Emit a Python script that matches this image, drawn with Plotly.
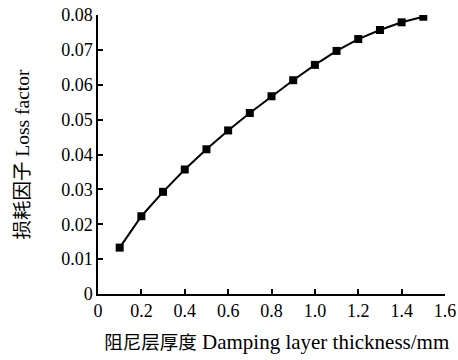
import plotly.graph_objects as go

thickness = [0.1, 0.2, 0.3, 0.4, 0.5, 0.6, 0.7, 0.8, 0.9, 1.0, 1.1, 1.2, 1.3, 1.4, 1.5]
loss_factor = [0.0133, 0.0223, 0.0293, 0.0357, 0.0415, 0.0469, 0.0519, 0.0567, 0.0613, 0.0657, 0.0697, 0.0731, 0.0757, 0.0779, 0.0795]
x_ticks = [0, 0.2, 0.4, 0.6, 0.8, 1.0, 1.2, 1.4, 1.6]
x_tick_text = ["0", "0.2", "0.4", "0.6", "0.8", "1.0", "1.2", "1.4", "1.6"]
y_ticks = [0, 0.01, 0.02, 0.03, 0.04, 0.05, 0.06, 0.07, 0.08]
y_tick_text = ["0", "0.01", "0.02", "0.03", "0.04", "0.05", "0.06", "0.07", "0.08"]
x_title_cn = "阻尼层厚度"
x_title_en = "Damping layer thickness/mm"
y_title_cn = "损耗因子"
y_title_en = "Loss factor"

font_family = "Liberation Serif, Times New Roman, Noto Sans CJK SC, serif"

fig = go.Figure()
fig.add_trace(go.Scatter(
    x=thickness, y=loss_factor, mode="lines+markers",
    line=dict(color="black", width=2),
    marker=dict(symbol="square", size=8, color="black"),
    showlegend=False,
))

fig.update_layout(
    width=458, height=360,
    margin=dict(l=98, r=13, t=15, b=66),
    paper_bgcolor="white", plot_bgcolor="white",
    font=dict(family=font_family, size=18, color="black"),
    xaxis=dict(
        range=[0, 1.6], tickvals=x_ticks, ticktext=x_tick_text,
        showline=True, linecolor="black", linewidth=1.5,
        ticks="inside", ticklen=5, tickwidth=1.5, tickcolor="black",
        showgrid=False, zeroline=False, automargin=False,
        title=dict(text=f'&nbsp;&nbsp;<span style="font-size:18.5px">{x_title_cn}</span><span style="font-size:21px"> {x_title_en}</span>',
                   font=dict(size=21), standoff=14),
    ),
    yaxis=dict(
        range=[0, 0.08], tickvals=y_ticks, ticktext=y_tick_text,
        showline=True, linecolor="black", linewidth=1.5,
        ticks="inside", ticklen=5, tickwidth=1.5, tickcolor="black",
        showgrid=False, zeroline=False, automargin=False,
        title=dict(text=f'<span style="font-size:19.5px">{y_title_cn}</span><span style="font-size:19.5px"> {y_title_en}</span>',
                   font=dict(size=19.5), standoff=26),
    ),
)

fig.write_html("out.html")
